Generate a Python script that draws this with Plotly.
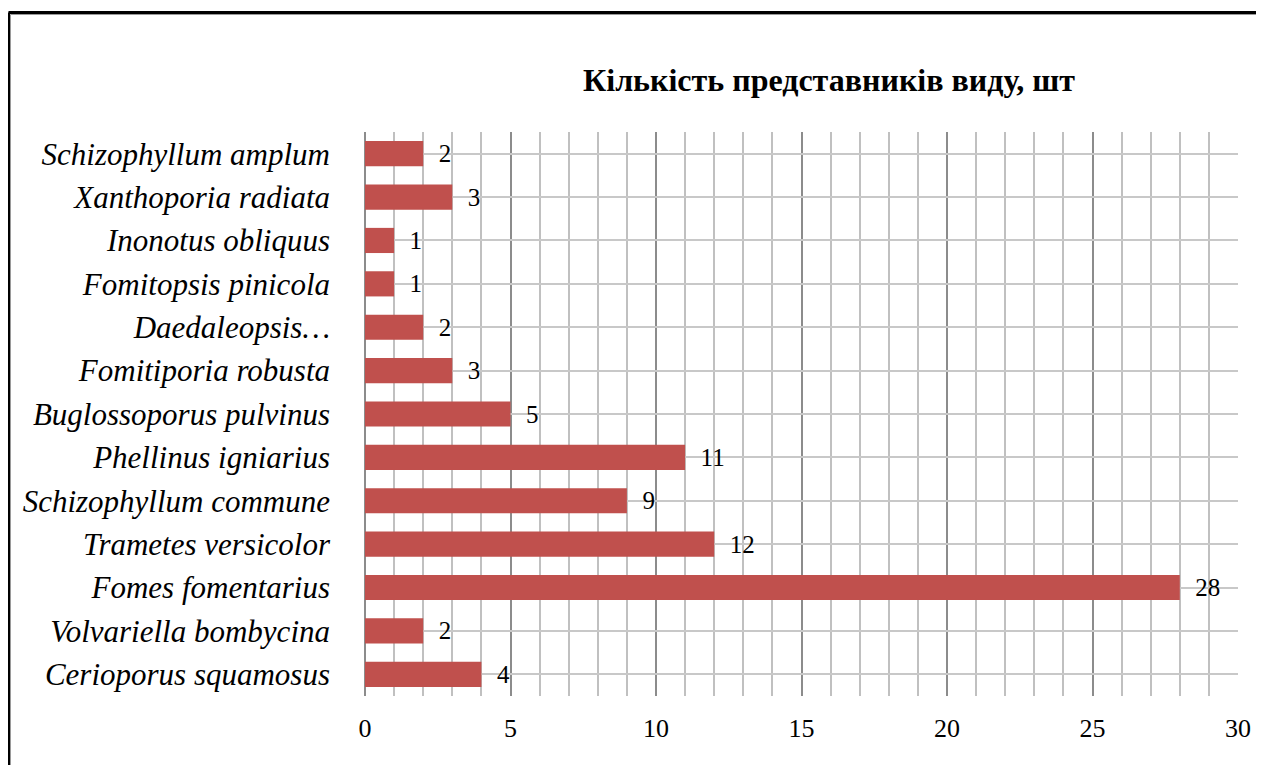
import plotly.graph_objects as go

# Data (bottom to top, as Plotly draws categories)
species = [
    "Cerioporus squamosus",
    "Volvariella bombycina",
    "Fomes fomentarius",
    "Trametes versicolor",
    "Schizophyllum commune",
    "Phellinus igniarius",
    "Buglossoporus pulvinus",
    "Fomitiporia robusta",
    "Daedaleopsis…",
    "Fomitopsis pinicola",
    "Inonotus obliquus",
    "Xanthoporia radiata",
    "Schizophyllum amplum",
]
counts = [4, 2, 28, 12, 9, 11, 5, 3, 2, 1, 1, 3, 2]
x_ticks = [0, 5, 10, 15, 20, 25, 30]
title_text = "Кількість представників виду, шт"

# page body has an 8px margin, so the figure is laid out in shifted coords
OFF = 8
W, H = 1264 - OFF, 765 - OFF
L, R, T, B = 365 - OFF, 1238 - OFF, 132 - OFF, 696 - OFF  # plot area

def px_x(p):
    return (p - OFF - L) / (R - L)

def px_y(p):
    return (B - (p - OFF)) / (B - T)

serif = "Liberation Serif, Times New Roman, serif"

fig = go.Figure(
    go.Bar(
        x=counts,
        y=species,
        orientation="h",
        marker=dict(color="#C0504D", line=dict(width=0)),
        width=0.58,
        text=[f"  {v}" for v in counts],
        textposition="outside",
        constraintext="none",
        cliponaxis=False,
        textfont=dict(family=serif, size=25, color="#000000"),
    )
)

frame = []
for pos, col, w in [(8.5, "#000000", 3), (10.5, "#9A9A9A", 1)]:
    top = pos + 4
    frame.append(dict(type="line", xref="paper", yref="paper",
                      x0=px_x(pos), x1=px_x(1320), y0=px_y(top), y1=px_y(top),
                      line=dict(color=col, width=w), layer="above"))
    frame.append(dict(type="line", xref="paper", yref="paper",
                      x0=px_x(pos), x1=px_x(pos), y0=px_y(top), y1=px_y(840),
                      line=dict(color=col, width=w), layer="above"))

fig.update_layout(
    width=W,
    height=H,
    paper_bgcolor="white",
    plot_bgcolor="white",
    margin=dict(l=L, r=W - R, t=T, b=H - B, pad=0),
    showlegend=False,
    title=dict(
        text=f"<b>{title_text}</b>",
        x=(829 - OFF) / W,
        xanchor="center",
        xref="container",
        y=1 - (80 - OFF) / H,
        yanchor="middle",
        font=dict(family=serif, size=32, color="#000000"),
    ),
    shapes=frame,
)

fig.update_xaxes(
    range=[0, 30],
    tickvals=x_ticks,
    ticktext=[str(v) for v in x_ticks],
    showgrid=True,
    gridcolor="#8C8C8C",
    gridwidth=2,
    minor=dict(dtick=1, showgrid=True, gridcolor="#C0C0C0", gridwidth=2),
    zeroline=True,
    zerolinecolor="#8C8C8C",
    zerolinewidth=2,
    showline=False,
    ticks="",
    ticklabelstandoff=14,
    tickfont=dict(family=serif, size=26, color="#000000"),
    fixedrange=True,
)

fig.update_yaxes(
    type="category",
    categoryorder="array",
    categoryarray=species,
    showgrid=True,
    gridcolor="#C8C8C8",
    gridwidth=2,
    showline=False,
    ticks="",
    ticklabelstandoff=34,
    tickfont=dict(family=serif, size=31, color="#000000", style="italic"),
    fixedrange=True,
)

fig.write_html("out.html")
